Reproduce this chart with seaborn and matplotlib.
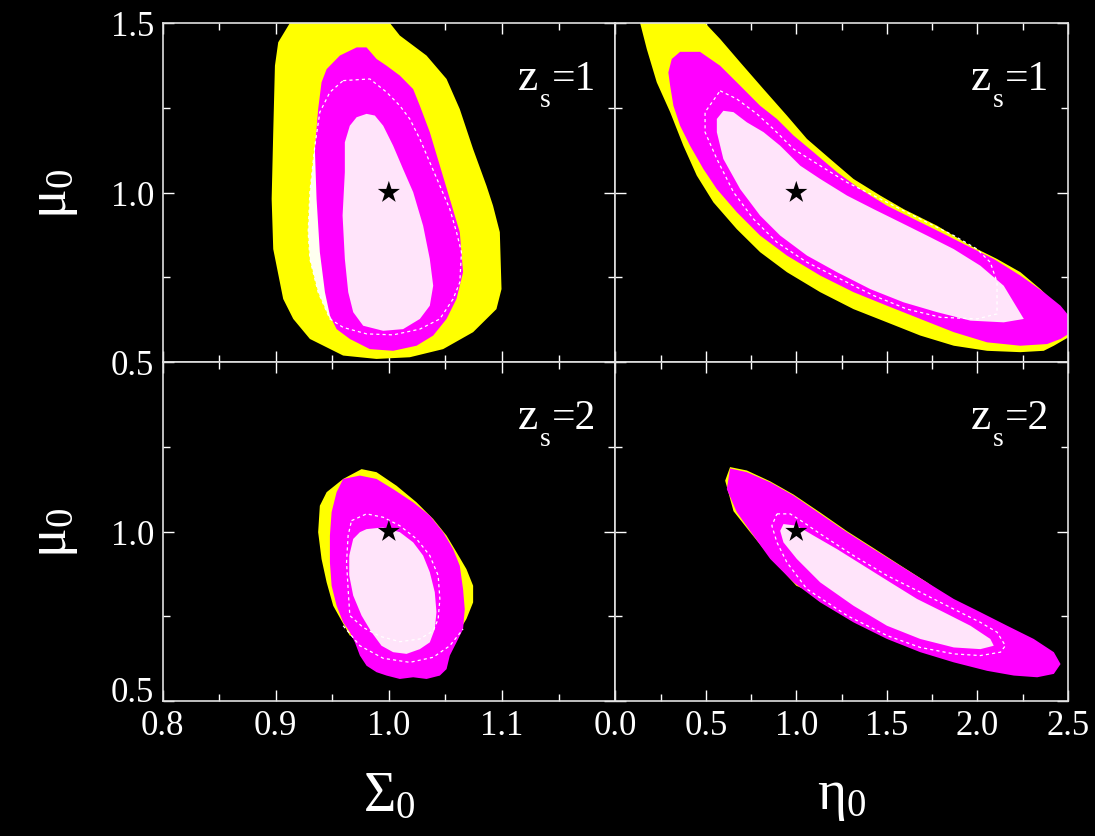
import matplotlib
matplotlib.use("Agg")
import matplotlib.pyplot as plt
import seaborn as sns
import pandas as pd
from matplotlib.ticker import MultipleLocator, FixedLocator

# ---------------- data: confidence-contour outlines ----------------
# Panel (Sigma_0, mu_0), z_s = 1
sig_z1_outer = [(0.9125, 1.56), (0.9125, 1.50), (0.9022, 1.443), (0.8993, 1.374), (0.8978, 1.178),
                (0.8964, 0.981), (0.8978, 0.833), (0.9066, 0.686), (0.9155, 0.627), (0.9302, 0.568),
                (0.9596, 0.519), (0.9891, 0.509), (1.0185, 0.514), (1.0480, 0.538), (1.0745, 0.588),
                (1.0951, 0.656), (1.0996, 0.715), (1.0981, 0.883), (1.0921, 0.961), (1.0863, 1.020),
                (1.0745, 1.128), (1.0627, 1.246), (1.0510, 1.335), (1.0333, 1.404), (1.0097, 1.463),
                (1.0009, 1.50), (1.0009, 1.56)]
sig_z1_mid = [(0.9715, 1.428), (0.9803, 1.428), (0.9891, 1.394), (0.9980, 1.374), (1.0097, 1.345),
              (1.0215, 1.305), (1.0274, 1.256), (1.0362, 1.178), (1.0451, 1.079), (1.0539, 0.981),
              (1.0627, 0.883), (1.0656, 0.765), (1.0598, 0.686), (1.0510, 0.627), (1.0392, 0.578),
              (1.0245, 0.548), (1.0038, 0.533), (0.9832, 0.538), (0.9655, 0.568), (0.9538, 0.597),
              (0.9479, 0.637), (0.9435, 0.706), (0.9390, 0.824), (0.9361, 0.981), (0.9346, 1.128),
              (0.9375, 1.246), (0.9405, 1.325), (0.9450, 1.364), (0.9567, 1.404)]
sig_z1_inner = [(0.9803, 1.232), (0.9876, 1.227), (0.9950, 1.197), (1.0038, 1.138), (1.0126, 1.069),
                (1.0215, 1.001), (1.0303, 0.902), (1.0362, 0.804), (1.0392, 0.725), (1.0362, 0.666),
                (1.0274, 0.627), (1.0126, 0.597), (0.9950, 0.592), (0.9773, 0.607), (0.9685, 0.647),
                (0.9641, 0.706), (0.9611, 0.804), (0.9591, 0.932), (0.9611, 1.060), (0.9611, 1.148),
                (0.9655, 1.197), (0.9715, 1.222)]
sig_z1_dash = [(0.9596, 1.330), (0.9832, 1.335), (0.9980, 1.296), (1.0097, 1.256), (1.0185, 1.217),
               (1.0274, 1.158), (1.0362, 1.089), (1.0451, 1.020), (1.0539, 0.951), (1.0598, 0.883),
               (1.0642, 0.824), (1.0627, 0.735), (1.0568, 0.686), (1.0451, 0.627), (1.0274, 0.597),
               (1.0038, 0.580), (0.9803, 0.583), (0.9596, 0.602), (0.9479, 0.627), (0.9375, 0.706),
               (0.9302, 0.804), (0.9287, 0.883), (0.9302, 1.001), (0.9346, 1.138), (0.9390, 1.237),
               (0.9479, 1.296)]

# Panel (eta_0, mu_0), z_s = 1
eta_z1_outer = [(0.12, 1.56), (0.137, 1.50), (0.174, 1.423), (0.229, 1.325), (0.303, 1.237),
                (0.376, 1.138), (0.450, 1.050), (0.542, 0.971), (0.671, 0.892), (0.800, 0.824),
                (0.948, 0.765), (1.132, 0.706), (1.316, 0.656), (1.501, 0.617), (1.685, 0.578),
                (1.870, 0.548), (2.054, 0.533), (2.238, 0.529), (2.367, 0.533), (2.423, 0.548),
                (2.52, 0.578), (2.52, 0.627), (2.423, 0.676), (2.349, 0.715), (2.238, 0.765),
                (2.109, 0.804), (1.962, 0.843), (1.778, 0.902), (1.593, 0.951), (1.464, 0.991),
                (1.316, 1.040), (1.187, 1.099), (1.059, 1.158), (0.948, 1.227), (0.819, 1.305),
                (0.690, 1.384), (0.579, 1.453), (0.496, 1.50), (0.48, 1.56)]
eta_z1_mid = [(0.358, 1.415), (0.468, 1.415), (0.579, 1.374), (0.690, 1.315), (0.800, 1.256),
              (0.893, 1.217), (0.985, 1.168), (1.095, 1.119), (1.225, 1.060), (1.353, 1.010),
              (1.501, 0.961), (1.648, 0.922), (1.796, 0.883), (1.944, 0.843), (2.091, 0.804),
              (2.238, 0.755), (2.367, 0.706), (2.460, 0.666), (2.52, 0.627), (2.52, 0.588),
              (2.460, 0.568), (2.386, 0.553), (2.238, 0.548), (2.054, 0.558), (1.870, 0.588),
              (1.685, 0.627), (1.501, 0.666), (1.316, 0.706), (1.132, 0.755), (0.948, 0.814),
              (0.800, 0.873), (0.671, 0.942), (0.561, 1.010), (0.487, 1.069), (0.413, 1.138),
              (0.358, 1.197), (0.321, 1.256), (0.303, 1.315), (0.293, 1.354), (0.312, 1.394)]
eta_z1_inner = [(0.597, 1.241), (0.653, 1.237), (0.727, 1.207), (0.819, 1.178), (0.911, 1.138),
                (1.022, 1.079), (1.132, 1.040), (1.280, 0.991), (1.427, 0.951), (1.575, 0.912),
                (1.722, 0.873), (1.870, 0.833), (2.017, 0.784), (2.146, 0.725), (2.257, 0.627),
                (2.146, 0.617), (1.962, 0.622), (1.778, 0.647), (1.593, 0.676), (1.409, 0.715),
                (1.225, 0.765), (1.059, 0.814), (0.911, 0.873), (0.800, 0.932), (0.690, 1.010),
                (0.597, 1.099), (0.561, 1.178), (0.561, 1.217)]
eta_z1_dash = [(0.579, 1.300), (0.671, 1.276), (0.782, 1.232), (0.874, 1.187), (0.985, 1.128),
               (1.132, 1.079), (1.280, 1.030), (1.427, 0.991), (1.575, 0.951), (1.722, 0.912),
               (1.870, 0.873), (1.999, 0.833), (2.072, 0.794), (2.109, 0.735), (2.109, 0.642),
               (1.999, 0.627), (1.796, 0.632), (1.612, 0.656), (1.427, 0.696), (1.243, 0.745),
               (1.059, 0.794), (0.893, 0.853), (0.763, 0.922), (0.653, 1.001), (0.561, 1.099),
               (0.496, 1.178), (0.496, 1.237)]

# Panel (Sigma_0, mu_0), z_s = 2
sig_z2_outer = [(0.9759, 1.184), (0.9891, 1.175), (1.0068, 1.135), (1.0245, 1.086), (1.0392, 1.037),
                (1.0510, 0.988), (1.0598, 0.939), (1.0686, 0.889), (1.0745, 0.840), (1.0745, 0.791),
                (1.0686, 0.742), (1.0598, 0.693), (1.0097, 0.653), (0.9655, 0.693), (0.9508, 0.781),
                (0.9450, 0.850), (0.9405, 0.919), (0.9375, 0.998), (0.9390, 1.076), (0.9450, 1.116),
                (0.9596, 1.155)]
sig_z2_mid = [(0.9596, 1.155), (0.9744, 1.165), (0.9891, 1.155), (1.0038, 1.125), (1.0215, 1.086),
              (1.0362, 1.047), (1.0480, 0.998), (1.0568, 0.948), (1.0627, 0.899), (1.0656, 0.830),
              (1.0671, 0.771), (1.0656, 0.712), (1.0598, 0.673), (1.0539, 0.634), (1.0510, 0.594),
              (1.0451, 0.575), (1.0333, 0.565), (1.0215, 0.570), (1.0097, 0.565), (0.9980, 0.575),
              (0.9891, 0.585), (0.9803, 0.604), (0.9744, 0.634), (0.9700, 0.673), (0.9655, 0.703),
              (0.9596, 0.732), (0.9538, 0.781), (0.9494, 0.840), (0.9479, 0.909), (0.9479, 0.988),
              (0.9494, 1.057), (0.9538, 1.116)]
sig_z2_inner = [(0.9803, 1.007), (0.9950, 1.012), (1.0097, 0.998), (1.0215, 0.968), (1.0303, 0.929),
                (1.0362, 0.880), (1.0406, 0.821), (1.0421, 0.762), (1.0406, 0.712), (1.0362, 0.673),
                (1.0274, 0.653), (1.0156, 0.639), (1.0038, 0.644), (0.9935, 0.663), (0.9847, 0.703),
                (0.9759, 0.752), (0.9685, 0.811), (0.9650, 0.870), (0.9650, 0.929), (0.9685, 0.978),
                (0.9744, 0.998)]
sig_z2_dash = [(0.9670, 1.032), (0.9803, 1.052), (0.9950, 1.042), (1.0097, 1.017), (1.0245, 0.978),
               (1.0362, 0.929), (1.0436, 0.870), (1.0451, 0.801), (1.0436, 0.742), (1.0392, 0.707),
               (1.0274, 0.683), (1.0097, 0.675), (0.9920, 0.691), (0.9773, 0.717), (0.9655, 0.752),
               (0.9640, 0.830), (0.9626, 0.909), (0.9640, 0.988)]
sig_z2_dash_b = [(0.9596, 0.722), (0.9744, 0.663), (0.9950, 0.626), (1.0186, 0.614), (1.0392, 0.629),
                 (1.0539, 0.663), (1.0656, 0.712)]

# Panel (eta_0, mu_0), z_s = 2
eta_z2_outer = [(0.634, 1.190), (0.727, 1.180), (0.856, 1.148), (0.985, 1.109), (1.132, 1.056),
                (1.280, 1.001), (1.427, 0.951), (1.575, 0.900), (1.722, 0.850), (1.900, 0.780),
                (1.600, 0.700), (1.000, 0.840), (0.856, 0.925), (0.745, 0.998), (0.653, 1.060),
                (0.607, 1.150)]
eta_z2_mid = [(0.634, 1.186), (0.727, 1.175), (0.856, 1.145), (0.985, 1.106), (1.132, 1.052),
              (1.280, 0.998), (1.427, 0.948), (1.575, 0.899), (1.722, 0.850), (1.870, 0.801),
              (2.017, 0.762), (2.165, 0.722), (2.312, 0.683), (2.423, 0.644), (2.460, 0.609),
              (2.423, 0.580), (2.331, 0.570), (2.202, 0.575), (2.054, 0.589), (1.870, 0.614),
              (1.685, 0.644), (1.501, 0.683), (1.316, 0.732), (1.132, 0.791), (0.985, 0.850),
              (0.856, 0.919), (0.763, 0.988), (0.671, 1.057), (0.616, 1.125)]
eta_z2_inner = [(0.929, 1.022), (1.003, 1.017), (1.095, 0.988), (1.225, 0.948), (1.372, 0.899),
                (1.519, 0.850), (1.667, 0.801), (1.814, 0.762), (1.962, 0.722), (2.072, 0.683),
                (2.091, 0.663), (2.017, 0.653), (1.870, 0.658), (1.685, 0.683), (1.501, 0.722),
                (1.316, 0.781), (1.132, 0.850), (1.003, 0.919), (0.929, 0.968), (0.911, 1.002)]
eta_z2_dash = [(0.893, 1.052), (0.966, 1.052), (1.040, 1.027), (1.132, 0.993), (1.316, 0.929),
               (1.501, 0.870), (1.685, 0.821), (1.870, 0.771), (2.017, 0.732), (2.109, 0.703),
               (2.155, 0.663), (2.128, 0.644), (2.017, 0.634), (1.870, 0.639), (1.685, 0.658),
               (1.501, 0.693), (1.280, 0.752), (1.059, 0.830), (0.948, 0.909), (0.893, 0.968),
               (0.865, 1.017)]

fiducial_sigma = [1.0]
fiducial_eta = [1.0]
fiducial_mu = [1.0]

sig_ticks = [0.8, 0.9, 1.0, 1.1, 1.2]
eta_ticks = [0.0, 0.5, 1.0, 1.5, 2.0, 2.5]
mu_ticks = [0.5, 1.0, 1.5]
z_values = ["1", "2"]

# ---------------- style ----------------
sns.set_style("ticks", {"axes.facecolor": "black", "figure.facecolor": "black",
                        "axes.edgecolor": "white", "xtick.color": "white", "ytick.color": "white",
                        "text.color": "white", "axes.labelcolor": "white"})
plt.rcParams["font.family"] = ["Liberation Serif", "DejaVu Serif"]
plt.rcParams["mathtext.fontset"] = "custom"
plt.rcParams["mathtext.rm"] = "Liberation Serif"
plt.rcParams["mathtext.it"] = "Liberation Serif:italic"

YELLOW = "#FFFF00"
WHITE_FILL = "#FFFFF0"
MAGENTA = "#FF00FF"
PINK = "#FFE4FA"

fig = plt.figure(figsize=(10.95, 8.37), dpi=100, facecolor="black")
W, H = 1095.0, 837.0
xl = [162.6, 615.3]
wd = 452.5
yt = [24.0, 363.0]
ht = 339.0
axes = {}
for r in range(2):
    for c in range(2):
        ax = fig.add_axes([xl[c] / W, 1 - (yt[r] + ht) / H, wd / W, ht / H])
        ax.set_facecolor("black")
        axes[(r, c)] = ax

panels = {
    (0, 0): (sig_z1_outer, sig_z1_mid, sig_z1_inner, sig_z1_dash, fiducial_sigma),
    (0, 1): (eta_z1_outer, eta_z1_mid, eta_z1_inner, eta_z1_dash, fiducial_eta),
    (1, 0): (sig_z2_outer, sig_z2_mid, sig_z2_inner, sig_z2_dash, fiducial_sigma),
    (1, 1): (eta_z2_outer, eta_z2_mid, eta_z2_inner, eta_z2_dash, fiducial_eta),
}

for (r, c), (outer, mid, inner, dash, fid_x) in panels.items():
    ax = axes[(r, c)]
    ox, oy = zip(*outer)
    ax.fill(ox, oy, color=YELLOW, lw=0, zorder=1)
    if (r, c) == (0, 0):
        dx, dy = zip(*dash)
        ax.fill(dx, dy, color=WHITE_FILL, lw=0, zorder=2)
    mx, my = zip(*mid)
    ax.fill(mx, my, color=MAGENTA, lw=0, zorder=3)
    ix, iy = zip(*inner)
    ax.fill(ix, iy, color=PINK, lw=0, zorder=4)
    d = list(dash) + [dash[0]]
    dfx, dfy = zip(*d)
    ax.plot(dfx, dfy, color="white", lw=0.9, ls=(0, (2.5, 2.5)), zorder=5)
    if (r, c) == (1, 0):
        bx, by = zip(*sig_z2_dash_b)
        ax.plot(bx, by, color="white", lw=0.9, ls=(0, (2.5, 2.5)), zorder=5)
    star = pd.DataFrame({"x": fid_x, "y": fiducial_mu})
    sns.scatterplot(data=star, x="x", y="y", marker="*", s=280, color="black",
                    edgecolor="none", ax=ax, zorder=6, legend=False)
    ax.set_xlabel("")
    ax.set_ylabel("")

    ax.set_ylim(0.5, 1.5)
    ax.yaxis.set_major_locator(FixedLocator(mu_ticks))
    ax.yaxis.set_minor_locator(MultipleLocator(0.25))
    if c == 0:
        ax.set_xlim(0.8, 1.2)
        ax.xaxis.set_major_locator(FixedLocator(sig_ticks))
        ax.xaxis.set_minor_locator(MultipleLocator(0.05))
    else:
        ax.set_xlim(0.0, 2.5)
        ax.xaxis.set_major_locator(FixedLocator(eta_ticks))
        ax.xaxis.set_minor_locator(MultipleLocator(0.25))
    ax.tick_params(which="both", direction="in", top=True, right=True, colors="white",
                   labelsize=25, pad=6)
    ax.tick_params(which="major", length=8, width=1)
    ax.tick_params(which="minor", length=5, width=1)
    for sp in ax.spines.values():
        sp.set_color("#E0E0E0")
        sp.set_linewidth(1.2)
        sp.set_zorder(10)

    # "z_s = N" label built from three pieces (large subscript, dropped low)
    kw = dict(xy=(0.958, 0.805), xycoords="axes fraction", textcoords="offset pixels",
              color="white", zorder=11, va="baseline")
    ax.annotate("=" + z_values[r], xytext=(0, 0), ha="right", fontsize=30, **kw)
    ax.annotate("s", xytext=(-45, -17), ha="right", fontsize=20, **kw)
    ax.annotate("z", xytext=(-58, 0), ha="right", fontsize=33, **kw)

    # tick label visibility
    if r == 0:
        ax.set_xticklabels([])
    else:
        if c == 0:
            ax.set_xticklabels(["0.8", "0.9", "1.0", "1.1", ""])
        else:
            ax.set_xticklabels(["0.0", "0.5", "1.0", "1.5", "2.0", "2.5"])
    if c == 1:
        ax.set_yticklabels([])
    else:
        if r == 0:
            ax.set_yticklabels(["0.5", "1.0", "1.5"])
        else:
            ax.set_yticklabels(["0.5", "1.0", ""])
            ax.yaxis.get_major_ticks()[0].label1.set_va("baseline")

for r in range(2):
    axes[(r, 0)].set_ylabel("$\\mathregular{\u03bc_0}$", fontsize=40, color="white", labelpad=22)
axes[(1, 0)].set_xlabel("$\\mathregular{\u03a3_0}$", fontsize=40, color="white", labelpad=20)
axes[(1, 1)].set_xlabel("$\\mathregular{\u03b7_0}$", fontsize=40, color="white", labelpad=20)

fig.savefig("out.png", dpi=100, facecolor="black")
